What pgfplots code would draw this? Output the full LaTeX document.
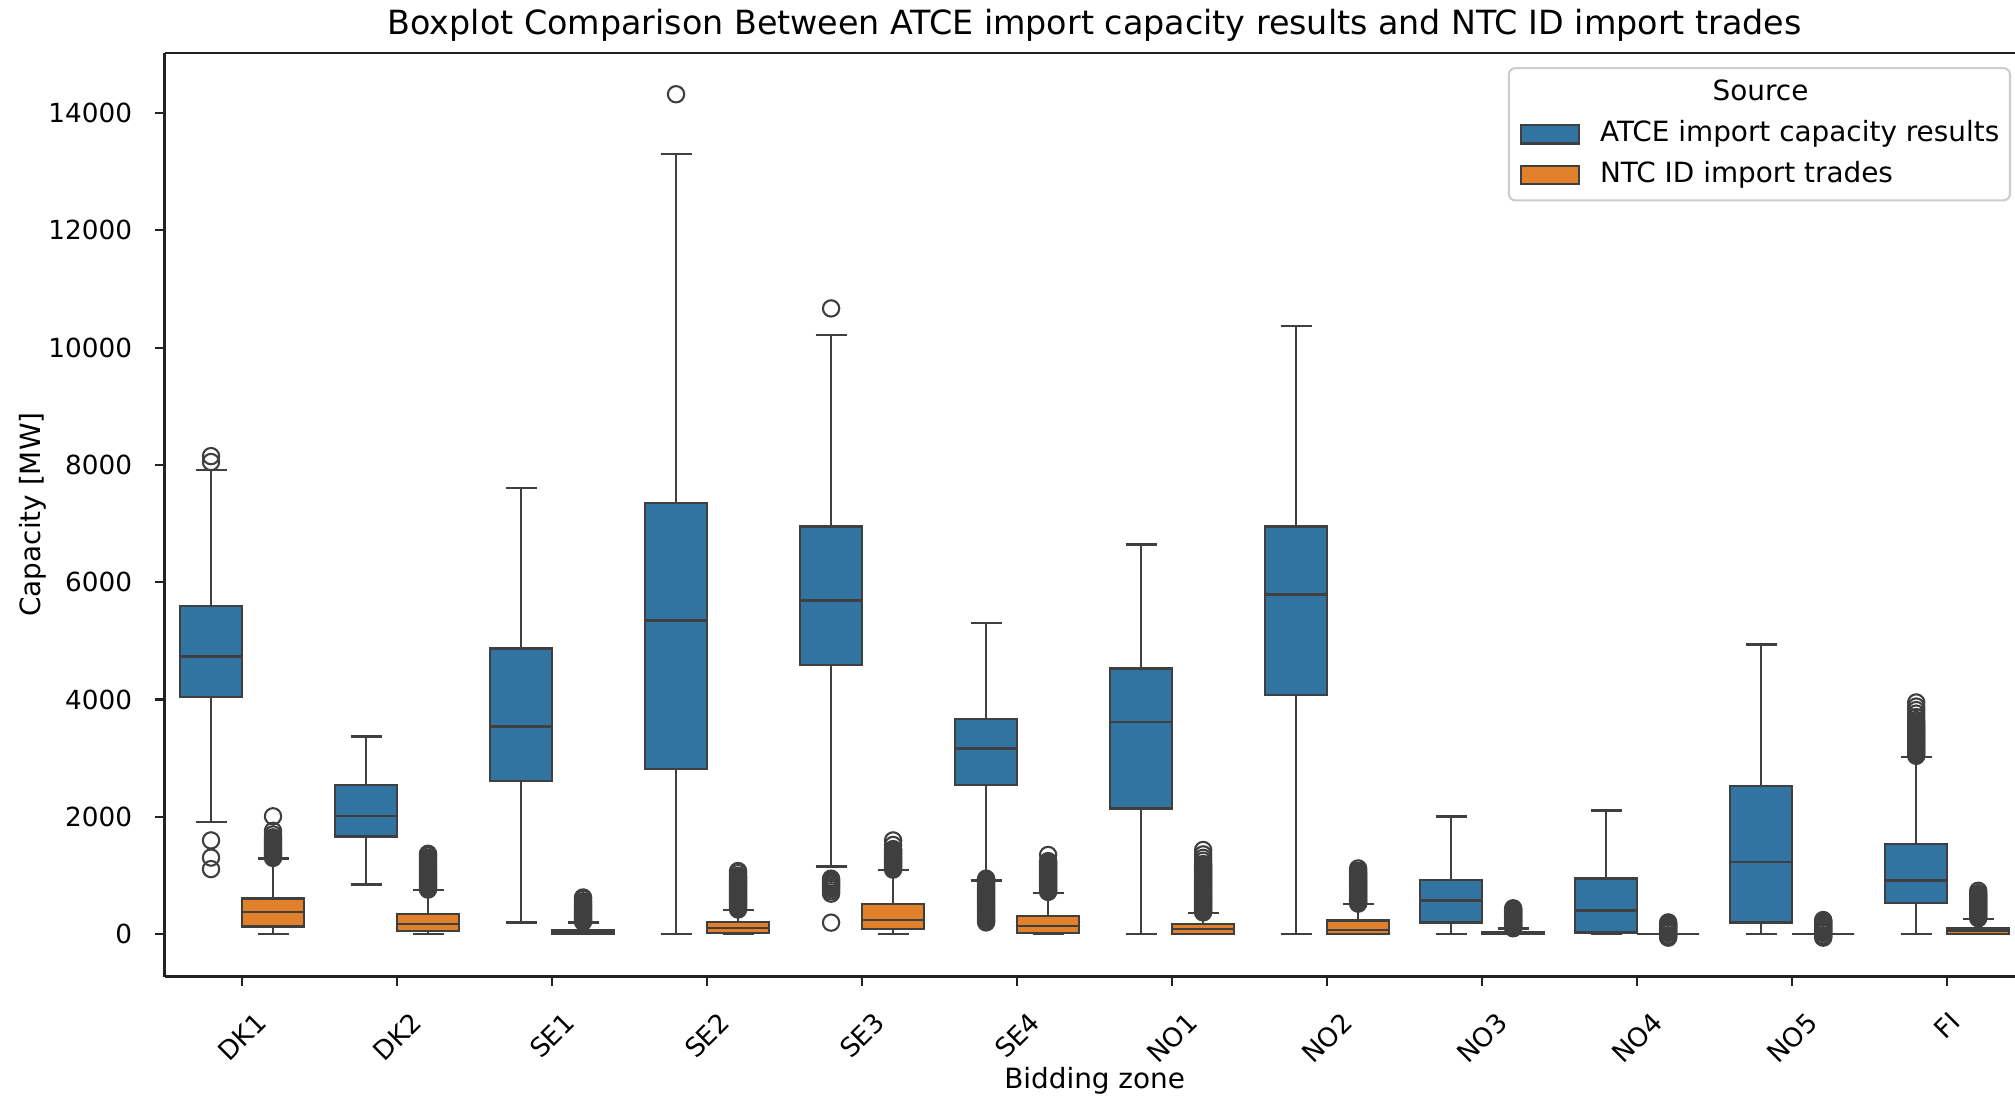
\documentclass[border=0pt]{standalone}
\usepackage{pgfplots}
\pgfplotsset{compat=1.18}
\usepgfplotslibrary{statistics}
\usepackage{fontspec}
\setmainfont{DejaVu Sans}
\definecolor{atce}{HTML}{3274A1}
\definecolor{ntc}{HTML}{E1812C}
\definecolor{lc}{HTML}{3F3F3F}
\definecolor{leggray}{HTML}{CCCCCC}
\definecolor{spine}{HTML}{222222}
\newlength\lw
\newcommand{\labfont}{\fontsize{10.6}{12.7}\selectfont}
% box with outliers
\newcommand{\bxo}[8]{\addplot[boxplot prepared={draw position=#1, lower whisker=#3, lower quartile=#4, median=#5, upper quartile=#6, upper whisker=#7, box extend=0.4, whisker extend=0.2}, fill=#2, draw=lc, line width=0.9pt, mark=o, mark size=3.1pt, mark options={line width=0.8pt, draw=lc, fill=none}, forget plot] table[row sep=\\, y index=0] {#8};}
% box without outliers
\newcommand{\bx}[7]{\addplot[boxplot prepared={draw position=#1, lower whisker=#3, lower quartile=#4, median=#5, upper quartile=#6, upper whisker=#7, box extend=0.4, whisker extend=0.2}, fill=#2, draw=lc, line width=0.9pt, forget plot] coordinates {};}
\begin{document}%
\settowidth\lw{\labfont ATCE import capacity results}%
\begin{tikzpicture}
\begin{axis}[
  scale only axis, width=707.3pt, height=351.3pt,
  xmin=-0.5, xmax=11.5, ymin=-723, ymax=15030,
  boxplot/draw direction=y,
  axis x line*=bottom, axis y line*=left,
  axis line style={spine, line width=0.8pt},
  tick align=outside, major tick length=3.5pt,
  tick style={spine, line width=0.8pt},
  font=\fontsize{10}{12}\selectfont,
  xtick={0,1,2,3,4,5,6,7,8,9,10,11},
  xticklabels={\rotatebox{45}{DK1},\rotatebox{45}{DK2},\rotatebox{45}{SE1},\rotatebox{45}{SE2},\rotatebox{45}{SE3},\rotatebox{45}{SE4},\rotatebox{45}{NO1},\rotatebox{45}{NO2},\rotatebox{45}{NO3},\rotatebox{45}{NO4},\rotatebox{45}{NO5},\rotatebox{45}{FI}},
  xticklabel style={anchor=north, inner sep=0pt, yshift=-9.3pt},
  ytick={0,2000,4000,6000,8000,10000,12000,14000},
  scaled y ticks=false,
  yticklabel style={anchor=east, inner sep=0pt, xshift=-8.6pt, /pgf/number format/1000 sep={}, /pgf/number format/assume math mode=true},
  every axis title shift=0pt,
  title={Boxplot Comparison Between ATCE import capacity results and NTC ID import trades},
  title style={at={(axis description cs:0.5,1.0191)}, anchor=base, inner sep=0pt, font=\fontsize{12.67}{15.2}\selectfont},
  xlabel={Bidding zone},
  xlabel style={at={(axis description cs:0.5,-0.1215)}, anchor=base, inner sep=0pt, font=\labfont},
  ylabel={Capacity [MW]},
  ylabel style={at={(axis description cs:-0.0669,0.5)}, anchor=base, inner sep=0pt, font=\labfont},
  legend cell align=left,
  legend image code/.code={\draw[#1, sharp corners] (0pt,-3.5pt) rectangle (22.2pt,3.5pt);},
  legend style={at={(1,1)}, anchor=north east, xshift=-5.2pt, yshift=-5.5pt,
    draw=leggray, line width=0.8pt, rounded corners=2.5pt, fill=white,
    font=\labfont, inner xsep=4.1pt, inner ysep=4.4pt,
    nodes={inner sep=0pt, text height=8pt, text depth=2.5pt},
    column sep=7.6pt, row sep=5pt},
]
\addlegendimage{empty legend}
\addlegendentry{\makebox[\lw][c]{\kern-29.8pt Source}}
\addlegendimage{fill=atce, draw=lc, line width=0.8pt}
\addlegendentry{ATCE import capacity results}
\addlegendimage{fill=ntc, draw=lc, line width=0.8pt}
\addlegendentry{NTC ID import trades}

% ATCE import capacity results
\bxo{-0.2}{atce}{1911}{4044}{4736}{5590}{7912}{y\\1109\\1305\\1598\\8050\\8150\\}
\bx{0.8}{atce}{848}{1663}{2009}{2544}{3372}
\bx{1.8}{atce}{196}{2609}{3542}{4873}{7605}
\bxo{2.8}{atce}{0}{2818}{5349}{7350}{13300}{y\\14320\\}
\bxo{3.8}{atce}{1155}{4592}{5688}{6947}{10215}{y\\196\\690\\730\\770\\800\\830\\860\\890\\920\\946\\10668\\}
\bxo{4.8}{atce}{913}{2544}{3164}{3673}{5310}{y\\200\\230\\260\\290\\320\\350\\380\\410\\440\\470\\500\\530\\560\\590\\620\\650\\680\\710\\740\\770\\800\\830\\860\\890\\920\\946\\}
\bx{5.8}{atce}{0}{2140}{3614}{4527}{6641}
\bx{6.8}{atce}{0}{4077}{5793}{6947}{10364}
\bx{7.8}{atce}{0}{196}{574}{920}{2003}
\bx{8.8}{atce}{0}{26}{404}{946}{2107}
\bx{9.8}{atce}{0}{196}{1233}{2524}{4938}
\bxo{10.8}{atce}{0}{535}{913}{1533}{3020}{y\\3040\\3070\\3100\\3130\\3160\\3190\\3220\\3250\\3280\\3310\\3340\\3370\\3400\\3430\\3460\\3490\\3520\\3550\\3580\\3610\\3650\\3700\\3760\\3820\\3880\\3950\\}

% NTC ID import trades
\bxo{0.2}{ntc}{0}{130}{372}{607}{1292}{y\\1300\\1325\\1350\\1375\\1400\\1425\\1450\\1475\\1500\\1525\\1550\\1575\\1600\\1625\\1650\\1700\\1761\\2009\\}
\bxo{1.2}{ntc}{0}{52}{176}{339}{750}{y\\760\\790\\820\\850\\880\\910\\940\\970\\1000\\1030\\1060\\1090\\1120\\1150\\1180\\1210\\1240\\1270\\1300\\1340\\1370\\}
\bxo{2.2}{ntc}{0}{5}{30}{72}{196}{y\\210\\235\\260\\285\\310\\335\\360\\385\\410\\435\\460\\485\\510\\535\\560\\600\\625\\}
\bxo{3.2}{ntc}{0}{20}{104}{202}{411}{y\\420\\445\\470\\495\\520\\545\\570\\595\\620\\645\\670\\695\\720\\745\\770\\795\\820\\845\\870\\895\\920\\945\\970\\995\\1040\\1076\\}
\bxo{4.2}{ntc}{0}{85}{241}{509}{1089}{y\\1100\\1125\\1150\\1175\\1200\\1225\\1250\\1275\\1300\\1325\\1350\\1375\\1400\\1425\\1450\\1520\\1598\\}
\bxo{5.2}{ntc}{0}{20}{144}{307}{705}{y\\720\\745\\770\\795\\820\\845\\870\\895\\920\\945\\970\\995\\1020\\1045\\1070\\1095\\1120\\1145\\1170\\1195\\1220\\1245\\1350\\}
\bxo{6.2}{ntc}{0}{0}{85}{170}{359}{y\\370\\395\\420\\445\\470\\495\\520\\545\\570\\595\\620\\645\\670\\695\\720\\745\\770\\795\\820\\845\\870\\895\\920\\945\\970\\995\\1020\\1045\\1070\\1095\\1120\\1145\\1170\\1195\\1250\\1300\\1360\\1435\\}
\bxo{7.2}{ntc}{0}{0}{72}{235}{509}{y\\520\\545\\570\\595\\620\\645\\670\\695\\720\\745\\770\\795\\820\\845\\870\\895\\920\\945\\970\\995\\1020\\1045\\1080\\1120\\}
\bxo{8.2}{ntc}{0}{0}{13}{33}{98}{y\\100\\120\\140\\160\\180\\200\\220\\240\\260\\280\\300\\320\\340\\360\\380\\400\\420\\440\\}
\bxo{9.2}{ntc}{0}{0}{0}{0}{0}{y\\-60\\-40\\-20\\20\\40\\60\\80\\100\\120\\140\\160\\180\\200\\}
\bxo{10.2}{ntc}{0}{0}{0}{0}{0}{y\\-60\\-40\\-20\\20\\40\\60\\80\\100\\120\\140\\160\\180\\200\\220\\240\\}
\bxo{11.2}{ntc}{0}{0}{59}{98}{261}{y\\270\\295\\320\\345\\370\\395\\420\\445\\470\\495\\520\\545\\570\\595\\620\\645\\670\\700\\740\\}

\draw[spine, line width=0.8pt] (rel axis cs:0,1) -- (rel axis cs:1,1);
\end{axis}
\pgfresetboundingbox
\path (-62.55pt,-47pt) rectangle (703.6pt,371.3pt);
\end{tikzpicture}%
\end{document}
